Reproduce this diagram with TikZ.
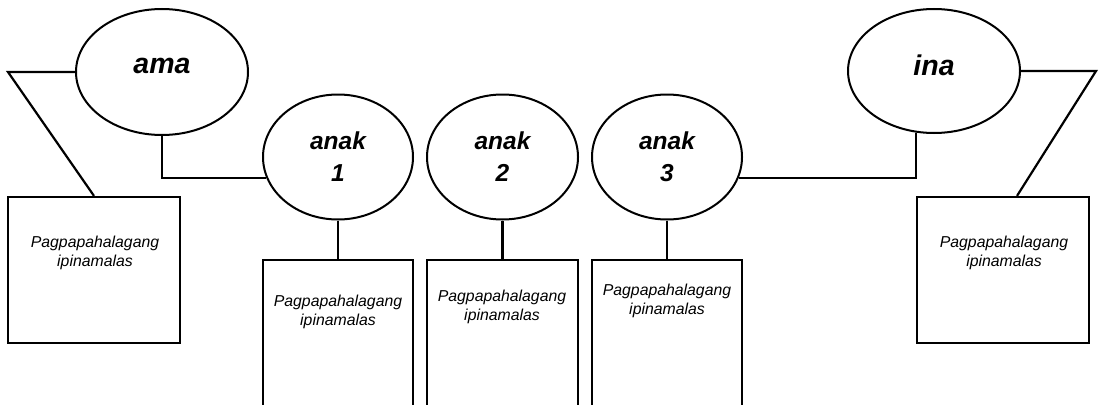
\documentclass[tikz,border=0pt]{standalone}
\usepackage{fontspec}
\setmainfont{Liberation Sans}
\usetikzlibrary{shapes.geometric,calc}
\begin{document}
\begin{tikzpicture}[x=1pt,y=-1pt,line width=2.2pt,
  person/.style={ellipse,draw,line width=2pt,inner sep=0pt,
    font=\fontsize{24.5}{32}\selectfont\bfseries\itshape,align=center},
  parent/.style={person,font=\fontsize{28.5}{32}\selectfont\bfseries\itshape,text depth=12pt},
  valbox/.style={rectangle,draw,inner sep=0pt},
  valtext/.style={font=\fontsize{15.8}{18.5}\selectfont\itshape,align=center,inner sep=0pt}]
\useasboundingbox (0,0) rectangle (1099,404);
\clip (0,0) rectangle (1099,404);
% parents
\node[parent,minimum width=172pt,minimum height=126pt] (ama) at (162,72) {ama};
\node[parent,minimum width=172pt,minimum height=124pt] (ina) at (934,71) {ina};
% children
\node[person,minimum width=150pt,minimum height=125pt] (a1) at (338,157) {anak\\1};
\node[person,minimum width=151pt,minimum height=125pt] (a2) at (502.5,157) {anak\\2};
\node[person,minimum width=150pt,minimum height=125pt] (a3) at (667,157) {anak\\3};
% boxes
\node[valbox,minimum width=172pt,minimum height=146pt] (pb1) at (94,270) {};
\node[valbox,minimum width=172pt,minimum height=146pt] (pb2) at (1003,270) {};
\node[valbox,minimum width=150pt,minimum height=180pt] (cb1) at (338,350) {};
\node[valbox,minimum width=151pt,minimum height=180pt] (cb2) at (502.5,350) {};
\node[valbox,minimum width=150pt,minimum height=180pt] (cb3) at (667,350) {};
% texts
\node[valtext] (t1) at (95,253) {Pagpapahalagang\\ipinamalas};
\node[valtext] (t2) at (1004,253) {Pagpapahalagang\\ipinamalas};
\node[valtext] (tc1) at (338,312) {Pagpapahalagang\\ipinamalas};
\node[valtext] (tc2) at (502,307) {Pagpapahalagang\\ipinamalas};
\node[valtext] (tc3) at (667,301) {Pagpapahalagang\\ipinamalas};
% connectors
\coordinate (lc) at (8,72);
\coordinate (rc) at (1096,71);
\draw (ama.west) -- (lc) -- (pb1.north);
\draw (ina.east) -- (rc) -- ($(pb2.north)+(14,0)$);
\draw (ama.south) |- (a1.196);
\draw (a3.-16) -| (ina.254);
\draw (a1.south) -- (cb1.north);
\draw (a2.south) -- (cb2.north);
\draw (a3.south) -- (cb3.north);
\end{tikzpicture}
\end{document}
